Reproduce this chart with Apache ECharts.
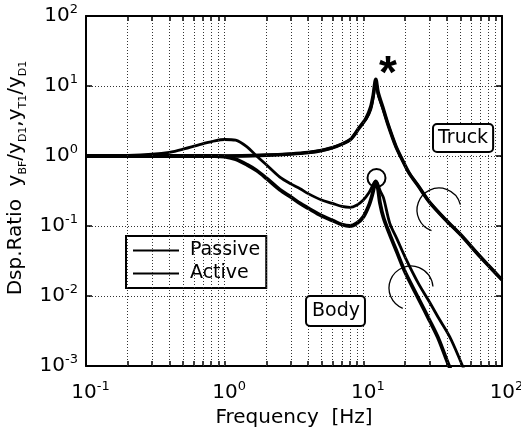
<!DOCTYPE html>
<html lang="en">
<head>
    <meta charset="UTF-8" />
    <title>Dsp.Ratio - Frequency</title>
    <script src="https://cdn.jsdelivr.net/npm/echarts@6/dist/echarts.min.js"></script>
    <style>
        html, body { margin: 0; padding: 0; background: #fff; }
        #chart { width: 521px; height: 437px; }
    </style>
</head>
<body>
<div id="chart"></div>
<script type="text/javascript">
    // 周波数 [Hz]
    var freqBody = [0.1, 0.2, 0.3, 0.4, 0.5, 0.7, 0.85, 1.0, 1.2, 1.45, 1.7, 2.0, 2.5, 3.0, 3.5, 4.0, 5.0, 6.0, 7.0, 8.0, 9.0, 10.0, 11.0, 11.6, 12.0, 12.3, 12.7, 13.2, 14.0, 15.5, 17.5, 20.0, 25.0, 30.0, 35.0, 42.0, 50.0, 60.0, 70.0];
    var passiveBody = [1.0, 1.02, 1.06, 1.13, 1.25, 1.5, 1.65, 1.72, 1.68, 1.35, 1.0, 0.75, 0.5, 0.4, 0.34, 0.29, 0.235, 0.21, 0.19, 0.185, 0.2, 0.235, 0.3, 0.37, 0.42, 0.44, 0.4, 0.32, 0.25, 0.11, 0.065, 0.036, 0.015, 0.0082, 0.0048, 0.0026, 0.0012, 0.0005, 0.00025];
    var activeBody = [1.0, 1.0, 1.0, 1.0, 1.0, 1.0, 1.0, 0.98, 0.9, 0.75, 0.62, 0.48, 0.33, 0.26, 0.21, 0.18, 0.14, 0.12, 0.105, 0.1, 0.11, 0.135, 0.2, 0.28, 0.37, 0.43, 0.36, 0.21, 0.13, 0.076, 0.042, 0.022, 0.0092, 0.0045, 0.0024, 0.00095, 0.0005, 0.00025, 0.00012];

    var freqTruck = [0.1, 0.3, 0.5, 1.0, 2.0, 3.0, 4.0, 5.0, 6.3, 8.0, 9.3, 10.5, 11.3, 11.8, 12.3, 12.8, 13.8, 15.0, 17.2, 19.0, 21.4, 25.0, 30.0, 40.0, 50.0, 70.0, 100.0];
    var passiveTruck = [1.0, 1.0, 1.0, 1.0, 1.03, 1.07, 1.12, 1.2, 1.36, 1.7, 2.5, 3.4, 4.6, 7.0, 12.0, 7.5, 4.8, 2.9, 1.36, 0.9, 0.57, 0.37, 0.22, 0.118, 0.076, 0.036, 0.017];
    var activeTruck = [1.0, 1.0, 1.0, 1.0, 1.03, 1.07, 1.12, 1.2, 1.36, 1.7, 2.5, 3.5, 5.0, 7.5, 12.5, 8.0, 5.0, 2.9, 1.36, 0.9, 0.57, 0.37, 0.22, 0.118, 0.076, 0.036, 0.017];

    // 目盛り・グリッド
    var tickX = [0.1, 0.2, 0.3, 0.4, 0.5, 0.6, 0.7, 0.8, 0.9, 1, 2, 3, 4, 5, 6, 7, 8, 9, 10, 20, 30, 40, 50, 60, 70, 80, 90, 100];
    var gridX = [0.2, 0.3, 0.4, 0.5, 0.6, 0.7, 0.8, 0.9, 1, 2, 3, 4, 5, 6, 7, 8, 9, 10, 20, 30, 40, 50, 60, 70, 80, 90];
    var tickY = [0.001, 0.01, 0.1, 1, 10, 100];

    var FONT = "'DejaVu Sans', sans-serif";

    function pairs(xs, ys) {
        return xs.map(function (x, i) { return [x, ys[i]]; });
    }

    function powLabel(v) {
        var e = Math.round(Math.log10(v));
        return '{b|10}{s|' + e + '}';
    }

    var labelRich = {
        b: { fontSize: 20, lineHeight: 25, fontFamily: FONT, color: '#000' },
        s: { fontSize: 13, lineHeight: 14, verticalAlign: 'top', fontFamily: FONT, color: '#000' }
    };

    var frame = { show: true, lineStyle: { color: '#000', width: 2 } };
    var gridStyle = { color: '#333', width: 1, type: [1, 2] };

    function xAxisOf(pos) {
        return {
            type: 'log', logBase: 10, min: 0.1, max: 100, position: pos,
            axisLine: frame,
            axisTick: { show: true, inside: true, length: 5, customValues: tickX, lineStyle: { color: '#000', width: 1.5 } },
            axisLabel: pos === 'bottom' ? { formatter: powLabel, rich: labelRich, margin: 14, padding: [0, 0, 0, 9], hideOverlap: false } : { show: false },
            splitLine: { show: false },
            name: pos === 'bottom' ? 'Frequency  [Hz]' : '',
            nameLocation: 'middle', nameGap: 40,
            nameTextStyle: { fontSize: 20, color: '#000', fontFamily: FONT }
        };
    }

    function yAxisOf(pos) {
        return {
            type: 'log', logBase: 10, min: 0.001, max: 100, position: pos,
            axisLine: frame,
            axisTick: { show: true, inside: true, length: 6, customValues: tickY, lineStyle: { color: '#000', width: 1.5 } },
            axisLabel: pos === 'left' ? { formatter: powLabel, rich: labelRich, margin: 8, hideOverlap: false } : { show: false },
            splitLine: { show: pos === 'left', lineStyle: gridStyle },
            name: pos === 'left' ? '{n|Dsp.Ratio  y}{sub|BF}{n|/y}{sub|D1}{n|,y}{sub|T1}{n|/y}{sub|D1}' : '',
            nameLocation: 'middle', nameGap: 52, nameRotate: 90,
            nameTextStyle: {
                color: '#000', fontFamily: FONT, padding: [0, 0, 0, 26],
                rich: {
                    n: { fontSize: 20, lineHeight: 26, fontFamily: FONT, color: '#000' },
                    sub: { fontSize: 11, lineHeight: 11, verticalAlign: 'bottom', fontFamily: FONT, color: '#000' }
                }
            }
        };
    }

    var myChart = echarts.init(document.getElementById('chart'));
    var option = {
        animation: false,
        backgroundColor: '#fff',
        grid: { left: 86, right: 19, top: 16, bottom: 71, containLabel: false, outerBoundsMode: 'none' },
        xAxis: [xAxisOf('bottom'), xAxisOf('top')],
        yAxis: [yAxisOf('left'), yAxisOf('right')],
        legend: {
            data: ['Passive', 'Active'],
            orient: 'vertical', left: 126, top: 236,
            backgroundColor: '#fff', borderColor: '#000', borderWidth: 2, borderRadius: 0,
            padding: [5, 6, 5, 6], itemGap: 4, itemWidth: 46, itemHeight: 12,
            itemStyle: { color: 'rgba(0,0,0,0)', borderWidth: 0, opacity: 0 },
            textStyle: { fontSize: 19, color: '#000', fontFamily: FONT, padding: [0, 0, 0, 6] },
            selectedMode: false
        },
        series: [
            {
                name: 'Passive', type: 'line', data: pairs(freqBody, passiveBody),
                showSymbol: false, symbol: 'none', smooth: 0.3,
                itemStyle: { color: '#000' },
                lineStyle: { color: '#000', width: 2.8 },
                markLine: {
                    silent: true, symbol: ['none', 'none'], label: { show: false },
                    lineStyle: gridStyle, animation: false,
                    data: gridX.map(function (v) { return { xAxis: v }; })
                }
            },
            {
                name: 'Active', type: 'line', data: pairs(freqBody, activeBody),
                showSymbol: false, symbol: 'none', smooth: 0.3,
                itemStyle: { color: '#000' },
                lineStyle: { color: '#000', width: 3.8 }
            },
            {
                name: 'Passive', type: 'line', data: pairs(freqTruck, passiveTruck),
                showSymbol: false, symbol: 'none', smooth: 0.3,
                itemStyle: { color: '#000' },
                lineStyle: { color: '#000', width: 2.8 }
            },
            {
                name: 'Active', type: 'line', data: pairs(freqTruck, activeTruck),
                showSymbol: false, symbol: 'none', smooth: 0.3,
                itemStyle: { color: '#000' },
                lineStyle: { color: '#000', width: 3.6 }
            }
        ],
        graphic: [
            { type: 'text', left: 432, top: 123, z: 100,
              style: { text: 'Truck', fontSize: 19, fontFamily: FONT, fill: '#000', backgroundColor: '#fff',
                       borderColor: '#000', borderWidth: 2, borderRadius: 3, padding: [4, 4, 3, 4] } },
            { type: 'text', left: 305, top: 295, z: 100,
              style: { text: 'Body', fontSize: 19, fontFamily: FONT, fill: '#000', backgroundColor: '#fff',
                       borderColor: '#000', borderWidth: 2, borderRadius: 3, padding: [5, 4, 4, 5] } },
            { type: 'text', x: 379, y: 52, z: 100,
              style: { text: '*', fontSize: 46, fontWeight: 'bold', fontFamily: "'Liberation Sans', Arial, sans-serif", fill: '#000' } },
            { type: 'circle', z: 100, shape: { cx: 376.5, cy: 178, r: 9 },
              style: { fill: 'none', stroke: '#000', lineWidth: 2 } },
            { type: 'arc', z: 100, shape: { cx: 439, cy: 210, r: 22, startAngle: 110 * Math.PI / 180, endAngle: 346 * Math.PI / 180, clockwise: true },
              style: { fill: 'none', stroke: '#000', lineWidth: 1.3 } },
            { type: 'arc', z: 100, shape: { cx: 411, cy: 288, r: 22, startAngle: 112 * Math.PI / 180, endAngle: 356 * Math.PI / 180, clockwise: true },
              style: { fill: 'none', stroke: '#000', lineWidth: 1.3 } }
        ]
    };
    myChart.setOption(option);
</script>
</body>
</html>
